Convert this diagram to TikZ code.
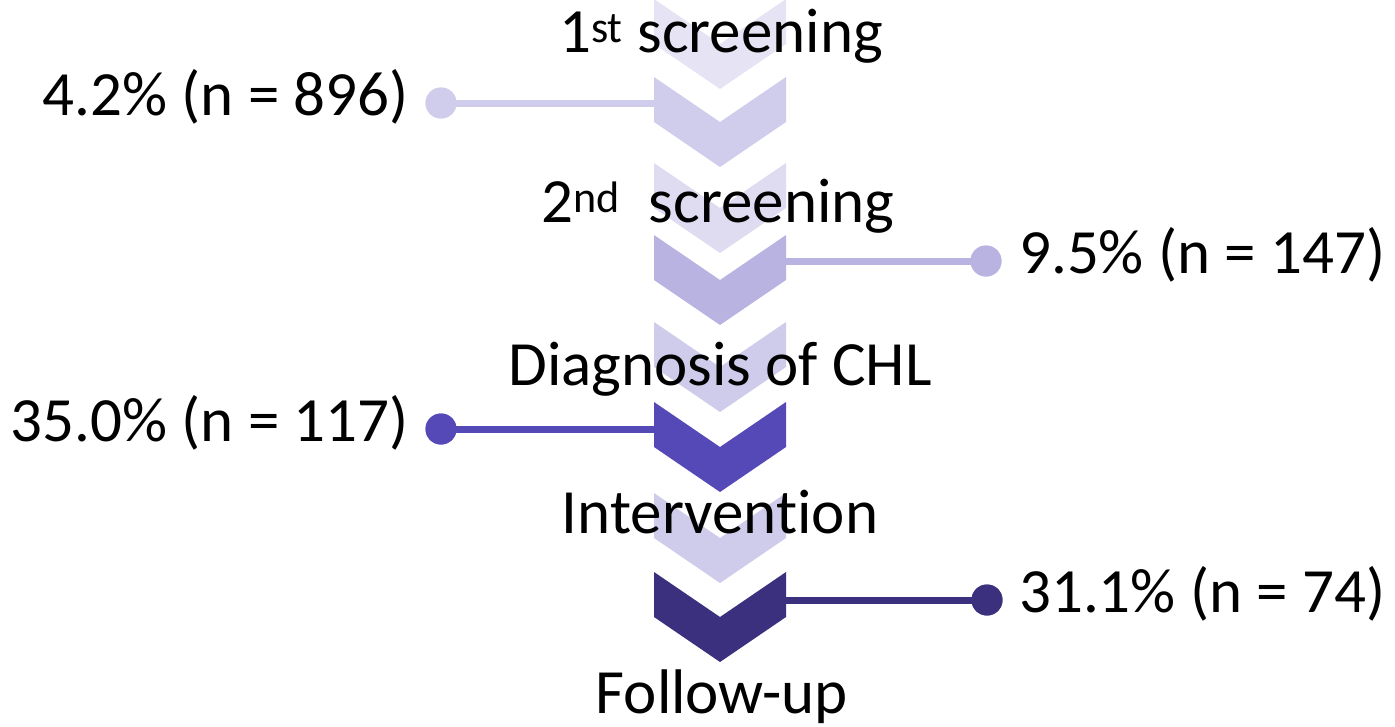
\documentclass[tikz,border=0pt]{standalone}
\usepackage{fontspec}
\setmainfont{Carlito}[Ligatures={NoCommon,NoDiscretionary,NoRare}]
\definecolor{cA}{HTML}{E6E3F5}
\definecolor{cB}{HTML}{D0CCEB}
\definecolor{cC}{HTML}{DFDCF1}
\definecolor{cD}{HTML}{B9B3E2}
\definecolor{cE}{HTML}{CFCBEA}
\definecolor{cF}{HTML}{5549B8}
\definecolor{cG}{HTML}{CFCBEA}
\definecolor{cH}{HTML}{3A307E}
\tikzset{
  lbl/.style={inner sep=0pt, font=\fontsize{63}{75}\selectfont, text=black},
  dot/.style={circle, inner sep=0pt, minimum size=31pt},
  conn/.style={line width=7pt},
}
\newcommand\chevron[3]{%
  \fill[#2] (654,#1) -- (720,#1+45) -- (786,#1) -- (786,#1+45) -- (720,#1+90) -- (654,#1+45) -- cycle;
  \coordinate (#3L) at (654,#1+27);
  \coordinate (#3R) at (786,#1+26);
}
\begin{document}
\begin{tikzpicture}[x=1pt,y=-1pt]
\useasboundingbox (0,0) rectangle (1395,726);
% chevrons
\chevron{-1}{cA}{chA}
\chevron{77}{cB}{chB}
\chevron{163}{cC}{chC}
\chevron{235}{cD}{chD}
\chevron{322}{cE}{chE}
\chevron{402}{cF}{chF}
\chevron{493}{cG}{chG}
\chevron{572}{cH}{chH}
% dots
\node[dot, fill=cB] (d1) at (441,103) {};
\node[dot, fill=cD] (d2) at (986,261) {};
\node[dot, fill=cF] (d3) at (441,429) {};
\node[dot, fill=cH] (d4) at (987,600) {};
% connectors
\draw[conn, cB] (d1.center) -- (d1.center -| chBL);
\draw[conn, cD] (d2.center -| chDR) -- (d2.center);
\draw[conn, cF] (d3.center) -- (d3.center -| chFL);
\draw[conn, cH] (d4.center -| chHR) -- (d4.center);
\node[dot, fill=cB] at (d1) {};
\node[dot, fill=cD] at (d2) {};
\node[dot, fill=cF] at (d3) {};
\node[dot, fill=cH] at (d4) {};
% stage labels
\node[lbl, anchor=base] (s1) at (721,52) {1\textsuperscript{st} screening};
\node[lbl, anchor=base] (s2) at (718,222) {2\textsuperscript{nd}\ \ screening};
\node[lbl, anchor=base] (s3) at (720,385) {Diagnosis of CHL};
\node[lbl, anchor=base] (s4) at (720,533) {Intervention};
\node[lbl, anchor=base] (s5) at (722,713) {Follow-up};
% value labels
\node[lbl, anchor=base east] (v1) at (409,115) {4.2\% (n = 896)};
\node[lbl, anchor=base west] (v2) at (1019,273) {9.5\% (n = 147)};
\node[lbl, anchor=base east] (v3) at (409,441) {35.0\% (n = 117)};
\node[lbl, anchor=base west] (v4) at (1019,612) {31.1\% (n = 74)};
\end{tikzpicture}
\end{document}
